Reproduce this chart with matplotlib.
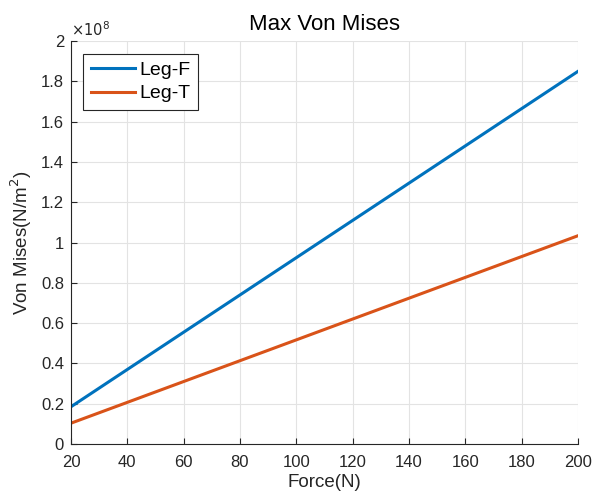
import matplotlib
matplotlib.use('Agg')
import matplotlib.pyplot as plt

# force values (N) and max von mises stress (N/m^2)
force = [20, 40, 60, 80, 100, 120, 140, 160, 180, 200]
leg_f = [0.185e8, 0.37e8, 0.555e8, 0.74e8, 0.925e8, 1.11e8, 1.295e8, 1.48e8, 1.665e8, 1.85e8]
leg_t = [0.1034e8, 0.2068e8, 0.3102e8, 0.4136e8, 0.517e8, 0.6204e8, 0.7238e8, 0.8272e8, 0.9306e8, 1.034e8]
x_ticks = [20, 40, 60, 80, 100, 120, 140, 160, 180, 200]
y_ticks = [0, 0.2, 0.4, 0.6, 0.8, 1, 1.2, 1.4, 1.6, 1.8, 2]

plt.rcParams['font.family'] = ['Liberation Sans', 'DejaVu Sans']

fig = plt.figure(figsize=(5.99, 4.98), dpi=100)
ax = fig.add_axes([0.1185, 0.1084, 0.8464, 0.809])

ax.plot(force, leg_f, color='#0072BD', linewidth=2.2, label='Leg-F')
ax.plot(force, leg_t, color='#D95319', linewidth=2.2, label='Leg-T')

ax.set_xlim(20, 200)
ax.set_ylim(0, 2e8)
ax.set_xticks(x_ticks)
ax.set_xticklabels([str(t) for t in x_ticks])
ax.set_yticks([v * 1e8 for v in y_ticks])
ax.set_yticklabels([('%g' % v) for v in y_ticks])

ax.grid(True, color='#e3e3e3', linewidth=0.8)
ax.set_axisbelow(True)
for s in ['top', 'right']:
    ax.spines[s].set_visible(False)
for s in ['left', 'bottom']:
    ax.spines[s].set_color('#262626')
    ax.spines[s].set_linewidth(0.8)
ax.tick_params(direction='in', length=4, width=0.8, colors='#262626',
               labelsize=12)
ax.tick_params(axis='x', pad=8)
ax.tick_params(axis='y', pad=5)

ax.text(0.0, 1.005, r'$\times10^{8}$', transform=ax.transAxes, fontsize=10.5,
        color='#262626', ha='left', va='bottom')

ax.set_title('Max Von Mises', fontsize=16, color='black', pad=8)
ax.set_xlabel('Force(N)', fontsize=13.5, color='#262626', labelpad=3)
ax.set_ylabel(r'Von Mises(N/m$^2$)', fontsize=13.5, color='#262626', labelpad=5)

leg = ax.legend(loc='upper left', bbox_to_anchor=(0.024, 0.968), fontsize=14,
                handlelength=2.3, handletextpad=0.2, borderpad=0.38,
                labelspacing=0.3, borderaxespad=0, fancybox=False, framealpha=1)
leg.get_frame().set_edgecolor('#262626')
leg.get_frame().set_linewidth(0.8)

plt.savefig('out.png', dpi=100)
